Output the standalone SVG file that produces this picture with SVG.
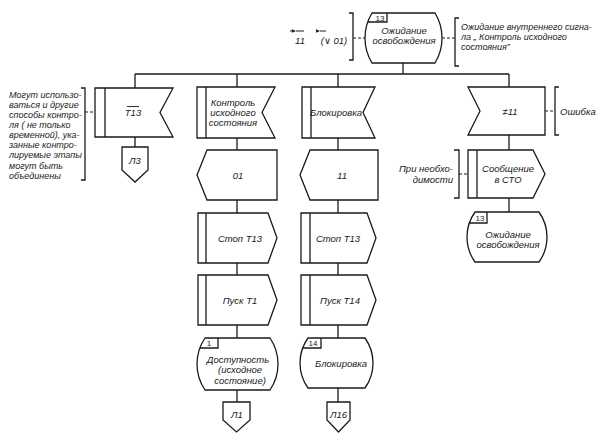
<svg xmlns="http://www.w3.org/2000/svg" width="600" height="442" viewBox="0 0 600 442">
<style>
.s{fill:#fff;stroke:#1a1a1a;stroke-width:1.3;stroke-linejoin:miter}
.l{fill:none;stroke:#1a1a1a;stroke-width:1.3}
.d{fill:none;stroke:#1a1a1a;stroke-width:1.2;stroke-dasharray:3 2}
text{font-family:"Liberation Sans","DejaVu Sans",sans-serif;font-style:italic;font-size:9.5px;fill:#1a1a1a}
.c{text-anchor:middle}
.e{text-anchor:end}
.n{font-size:8px;font-style:normal}
.a{font-size:9px}
</style>
<defs>
<marker id="ah" viewBox="0 0 6 6" refX="0" refY="3" markerUnits="userSpaceOnUse" markerWidth="4" markerHeight="4" orient="auto-start-reverse"><path d="M0,3 L6,0.5 L6,5.5 Z" fill="#1a1a1a"/></marker>
</defs>
<rect width="600" height="442" fill="#fff"/>
<g id="connectors">
<path class="l" d="M403,63V74M135,74H509M135,74V88M135,137V147M237,74V87M237,138V150M237,200V213M237,263V275M237,325V338M237,390V402M338,74V87M338,138V150M338,200V213M338,263V275M338,325V338M338,388V402M509,74V87M509,135V150M509,198V212"/>
<path class="d" d="M353,38H365M442,38H455M85,112H95M545,111H555M459,174H468"/>
</g>
<g id="annot-top-left">
<path class="l" d="M349,13H353V60H349"/>
<path class="l" d="M290,31H293" style="stroke-width:1"/>
<path class="l" d="M296,31H304" style="stroke-width:1" marker-start="url(#ah)"/>
<path class="l" d="M320,31H326" style="stroke-width:1" marker-start="url(#ah)"/>
<text x="300" y="44" class="c">11</text>
<text x="334" y="44" class="c">(∨ 01)</text>
</g>
<g id="annot-top-right">
<path class="l" d="M459,18H455V66H459"/>
<text x="461" y="30" class="a">Ожидание внутреннего сигна-</text>
<text x="461" y="40" class="a">ла „ Контроль исходного</text>
<text x="461" y="50" class="a">состояния”</text>
</g>
<g id="n-top">
<path class="s" d="M372,13H435A48.1,48.1 0 0 1 435,63H372A48.1,48.1 0 0 1 372,13Z"/>
<path class="l" d="M367.7,22H387V13"/>
<text x="380" y="20.5" class="c n">13</text>
<text x="404" y="34" class="c">Ожидание</text>
<text x="404" y="44" class="c">освобождения</text>
</g>
<g id="annot-left">
<path class="l" d="M81,88H85V180H81"/>
<text x="9" y="98" class="a">Могут использо-</text>
<text x="9" y="108" class="a">ваться и другие</text>
<text x="9" y="118" class="a">способы контро-</text>
<text x="9" y="128" class="a">ля ( не только</text>
<text x="9" y="138" class="a">временной), ука-</text>
<text x="9" y="148" class="a">занные контро-</text>
<text x="9" y="158" class="a">лируемые этапы</text>
<text x="9" y="169" class="a">могут быть</text>
<text x="9" y="179" class="a">объединены</text>
</g>
<g id="n-t13">
<polygon class="s" points="95,88 173,88 160,112.5 173,137 95,137"/>
<path class="l" d="M105,88V137"/>
<text x="133" y="116" class="c">T13</text>
<path class="l" d="M127,106.5H139" style="stroke-width:0.9"/>
</g>
<g id="n-l3">
<polygon class="s" points="122,147 148,147 148,170 135,182 122,170"/>
<text x="135" y="164" class="c">Л3</text>
</g>
<g id="n-kontrol">
<polygon class="s" points="197,87 275,87 262,112.5 275,138 197,138"/>
<path class="l" d="M206,87V138"/>
<text x="233" y="106" class="c">Контроль</text>
<text x="233" y="116" class="c">исходного</text>
<text x="233" y="126" class="c">состояния</text>
</g>
<g id="n-01">
<polygon class="s" points="197,175 207,150 277,150 277,200 207,200"/>
<text x="238" y="178.5" class="c">01</text>
</g>
<g id="n-stop1">
<polygon class="s" points="198,213 268,213 277,238 268,263 198,263"/>
<path class="l" d="M206,213V263"/>
<text x="240" y="241.5" class="c">Стоп T13</text>
</g>
<g id="n-pusk1">
<polygon class="s" points="198,275 268,275 277,300 268,325 198,325"/>
<path class="l" d="M206,275V325"/>
<text x="240" y="303.5" class="c">Пуск T1</text>
</g>
<g id="n-dostup">
<path class="s" d="M205,338H270A46.25,46.25 0 0 1 270,390H205A46.25,46.25 0 0 1 205,338Z"/>
<path class="l" d="M199.9,348H218V338"/>
<text x="209" y="346" class="c n">1</text>
<text x="238" y="363" class="c">Доступность</text>
<text x="240" y="373" class="c">(исходное</text>
<text x="240" y="384" class="c">состояние)</text>
</g>
<g id="n-l1">
<polygon class="s" points="223,402 250,402 250,420 236.5,432 223,420"/>
<text x="237" y="418" class="c">Л1</text>
</g>
<g id="n-blok">
<polygon class="s" points="302,87 375,87 363,112.5 375,138 302,138"/>
<path class="l" d="M311,87V138"/>
<text x="336" y="116" class="c">Блокировка</text>
</g>
<g id="n-11">
<polygon class="s" points="300,175 310,150 378,150 378,200 310,200"/>
<text x="342" y="178.5" class="c">11</text>
</g>
<g id="n-stop2">
<polygon class="s" points="301,213 367,213 376,238 367,263 301,263"/>
<path class="l" d="M310,213V263"/>
<text x="338" y="241.5" class="c">Стоп T13</text>
</g>
<g id="n-pusk2">
<polygon class="s" points="301,275 367,275 376,300 367,325 301,325"/>
<path class="l" d="M310,275V325"/>
<text x="340" y="303.5" class="c">Пуск T14</text>
</g>
<g id="n-blok-state">
<path class="s" d="M308,338H365A43.06,43.06 0 0 1 365,388H308A43.06,43.06 0 0 1 308,338Z"/>
<path class="l" d="M302.7,348H321V338"/>
<text x="313" y="346" class="c n">14</text>
<text x="341" y="366.5" class="c">Блокировка</text>
</g>
<g id="n-l16">
<polygon class="s" points="327,402 350,402 350,420 338.5,432 327,420"/>
<text x="338.5" y="418" class="c">Л16</text>
</g>
<g id="n-ne11">
<polygon class="s" points="468,87 545,87 545,135 468,135 480,111"/>
<text x="510" y="114.5" class="c">≠11</text>
<path class="l" d="M559,87H555V135H559"/>
<text x="560" y="114.5">Ошибка</text>
</g>
<g id="n-soobsh">
<polygon class="s" points="468,150 533,150 545,174 533,198 468,198"/>
<path class="l" d="M477,150V198"/>
<text x="508" y="172" class="c">Сообщение</text>
<text x="508" y="183" class="c">в СТО</text>
<path class="l" d="M454,150H459V198H454"/>
<text x="453" y="172" class="e">При необхо-</text>
<text x="453" y="183" class="e">димости</text>
</g>
<g id="n-ozhid2">
<path class="s" d="M475,212H539A43.06,43.06 0 0 1 539,262H475A43.06,43.06 0 0 1 475,212Z"/>
<path class="l" d="M469.3,223H487V212"/>
<text x="480" y="220.5" class="c n">13</text>
<text x="508" y="238" class="c">Ожидание</text>
<text x="508" y="248" class="c">освобождения</text>
</g>
</svg>
